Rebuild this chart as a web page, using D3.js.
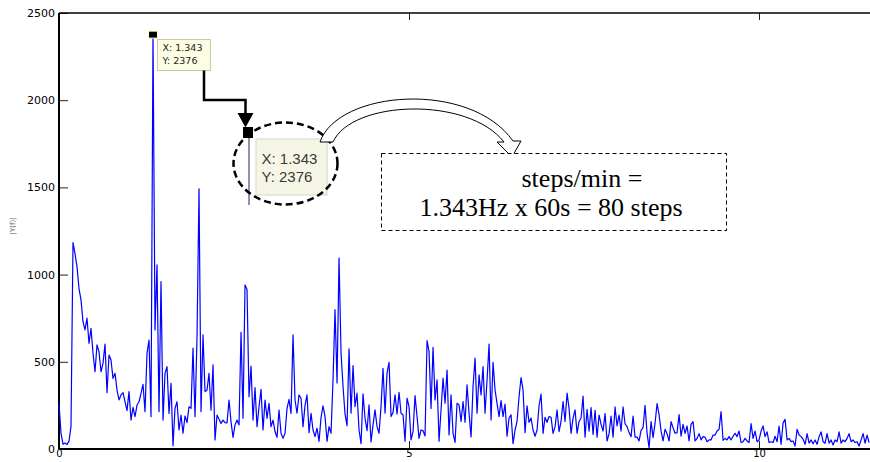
<!DOCTYPE html>
<meta charset="utf-8">
<style>
  body { margin: 0; background: #fff; }
  svg { display: block; background: #fff; }
  .tick text { font-family: "DejaVu Sans", sans-serif; font-size: 11px; fill: #000; }
  .tick line { stroke: #222; }
  .xaxis .tick text { font-size: 10px; }
</style>
<body>
<svg id="chart" width="870" height="462"></svg>
<script src="https://d3js.org/d3.v7.min.js"></script>
<script>

  // FFT magnitude spectrum, one value per frequency bin
  const freqStep = 1.343 / 47;
  const magnitude = [
    260, 90, 28, 35, 25, 45, 130, 1184, 1120, 1046,
    920, 855, 730, 683, 750, 606, 692, 549, 443, 597,
    558, 443, 491, 602, 323, 539, 510, 405, 434, 338,
    281, 310, 323, 271, 220, 329, 166, 239, 185, 252,
    271, 319, 371, 214, 549, 625, 185, 2376, 683, 1056,
    214, 960, 166, 434, 472, 204, 377, 19, 233, 271,
    109, 195, 90, 189, 151, 242, 233, 578, 185, 640,
    1492, 214, 655, 329, 338, 434, 223, 482, 52, 195,
    170, 147, 166, 151, 150, 281, 157, 67, 138, 166,
    138, 669, 176, 941, 914, 300, 476, 166, 352, 128,
    242, 342, 109, 281, 176, 262, 128, 166, 100, 67,
    223, 90, 61, 90, 233, 285, 204, 655, 281, 205,
    310, 291, 128, 250, 310, 94, 205, 109, 71, 119,
    44, 180, 248, 186, 44, 128, 90, 397, 799, 378,
    1095, 550, 358, 200, 134, 574, 205, 478, 243, 320,
    109, 31, 316, 176, 105, 253, 40, 140, 224, 128,
    90, 243, 463, 205, 435, 497, 186, 210, 310, 201,
    325, 205, 195, 44, 291, 243, 52, 100, 306, 186,
    61, 109, 105, 75, 622, 559, 233, 583, 281, 396,
    44, 224, 406, 262, 453, 81, 310, 90, 38, 262,
    253, 158, 272, 153, 368, 205, 69, 358, 521, 205,
    425, 310, 473, 205, 396, 602, 167, 497, 339, 262,
    186, 277, 186, 258, 73, 177, 196, 31, 109, 158,
    300, 410, 339, 94, 248, 153, 177, 109, 73, 109,
    248, 315, 90, 182, 153, 186, 182, 90, 128, 224,
    100, 158, 272, 158, 320, 233, 90, 177, 224, 90,
    158, 178, 303, 68, 227, 103, 237, 84, 222, 68,
    195, 141, 103, 203, 46, 88, 189, 68, 241, 132,
    195, 103, 241, 145, 128, 94, 71, 189, 68, 68,
    46, 107, 122, 250, 90, 8, 157, 65, 148, 260,
    197, 103, 46, 113, 88, 46, 157, 122, 90, 94,
    197, 73, 141, 90, 132, 46, 141, 157, 46, 61,
    88, 52, 71, 68, 42, 52, 52, 80, 80, 103,
    113, 214, 50, 61, 52, 71, 52, 73, 90, 71,
    103, 37, 42, 61, 46, 37, 145, 61, 103, 42,
    52, 103, 132, 71, 98, 37, 42, 37, 73, 42,
    132, 27, 150, 170, 52, 61, 42, 46, 17, 113,
    80, 71, 56, 27, 88, 33, 52, 30, 52, 27,
    71, 98, 42, 33, 88, 33, 52, 23, 52, 42,
    98, 33, 52, 42, 61, 88, 42, 52, 37, 42,
    17, 52, 88, 33, 80, 37
  ];

  const yTicks = [0, 500, 1000, 1500, 2000, 2500];
  const xTicks = [0, 5, 10];
  const yLabel = "|Y(f)|";

  const peakFreq = 1.343;
  const peakMag = 2376;
  const tipLines = ["X: 1.343", "Y: 2376"];
  const noteLines = ["steps/min =", "1.343Hz x 60s = 80 steps"];

  const svg = d3.select("#chart");
  const plotLeft = 59, plotRight = 870, plotTop = 13, plotBottom = 449;

  const x = d3.scaleLinear().domain([0, 10]).range([plotLeft, 759]);
  const y = d3.scaleLinear().domain([0, 2500]).range([plotBottom, plotTop]);

  // axes (ticks point inward, like matlab)
  svg.append("g")
    .attr("transform", `translate(${plotLeft},0)`)
    .call(d3.axisLeft(y).tickValues(yTicks).tickFormat(d3.format("d"))
      .tickSize(-9).tickPadding(4).tickSizeOuter(0))
    .call(g => g.select(".domain").remove());

  svg.append("g")
    .attr("class", "xaxis")
    .attr("transform", `translate(0,${plotBottom})`)
    .call(d3.axisBottom(x).tickValues(xTicks).tickFormat(d3.format("d"))
      .tickSize(-8).tickPadding(1).tickSizeOuter(0))
    .call(g => g.select(".domain").remove());

  svg.append("g")
    .attr("transform", `translate(0,${plotTop})`)
    .call(d3.axisTop(x).tickValues(xTicks).tickSize(-7).tickFormat("").tickSizeOuter(0))
    .call(g => g.select(".domain").remove());

  svg.append("line").attr("x1", plotLeft).attr("x2", plotRight).attr("y1", plotTop).attr("y2", plotTop)
    .attr("stroke", "#000").attr("stroke-width", 1.3);
  svg.append("line").attr("x1", plotLeft).attr("x2", plotRight).attr("y1", plotBottom).attr("y2", plotBottom)
    .attr("stroke", "#000").attr("stroke-width", 2);
  svg.append("line").attr("x1", plotLeft).attr("x2", plotLeft).attr("y1", plotTop).attr("y2", plotBottom)
    .attr("stroke", "#000").attr("stroke-width", 2);

  svg.append("text")
    .attr("transform", "translate(15,226) rotate(-90)")
    .attr("text-anchor", "middle")
    .attr("font-family", "DejaVu Sans, sans-serif")
    .attr("font-size", 7)
    .attr("fill", "#666")
    .text(yLabel);

  // spectrum
  const line = d3.line()
    .x((d, i) => x(i * freqStep))
    .y(d => y(d));

  svg.append("path")
    .datum(magnitude)
    .attr("d", line)
    .attr("fill", "none")
    .attr("stroke", "#0000ff")
    .attr("stroke-width", 1.2)
    .attr("stroke-linejoin", "round");

  // data cursor on the peak
  const px = x(peakFreq), py = y(peakMag);
  svg.append("rect")
    .attr("x", px - 4.5).attr("y", py - 3.5).attr("width", 9).attr("height", 7)
    .attr("fill", "#000").attr("stroke", "#ffffc8").attr("stroke-width", 1);

  svg.append("rect")
    .attr("x", 157.5).attr("y", 39.5).attr("width", 53).attr("height", 31)
    .attr("fill", "#fdfde4").attr("stroke", "#c8c8b0");
  svg.selectAll("text.tip")
    .data(tipLines).enter().append("text")
    .attr("class", "tip")
    .attr("x", 162.5)
    .attr("y", (d, i) => 51 + i * 12.5)
    .attr("font-family", "DejaVu Sans, sans-serif")
    .attr("font-size", 9.5)
    .attr("fill", "#222")
    .text(d => d);

  // elbow arrow down to the zoomed cursor
  svg.append("path")
    .attr("d", "M204,70.5 V100 H245.5 V114")
    .attr("fill", "none").attr("stroke", "#000").attr("stroke-width", 2.5);
  svg.append("path")
    .attr("d", "M237.5,113 L253.5,113 L245.5,127.5 Z")
    .attr("fill", "#000");
  svg.append("rect")
    .attr("x", 243).attr("y", 127).attr("width", 10).attr("height", 11)
    .attr("fill", "#000");

  // zoomed copy of the cursor
  svg.append("rect")
    .attr("x", 256).attr("y", 139).attr("width", 71).attr("height", 56)
    .attr("fill", "#f6f6e6").attr("stroke", "#d6d6c6");
  svg.append("line")
    .attr("x1", 249).attr("x2", 249).attr("y1", 138).attr("y2", 205)
    .attr("stroke", "#6c6c9c").attr("stroke-width", 1.5);
  svg.selectAll("text.bigtip")
    .data(tipLines).enter().append("text")
    .attr("class", "bigtip")
    .attr("x", 261.5)
    .attr("y", (d, i) => 163.5 + i * 18.5)
    .attr("font-family", "Liberation Sans, Arial, sans-serif")
    .attr("font-size", 15)
    .attr("fill", "#3a3a3a")
    .text(d => d);

  svg.append("ellipse")
    .attr("cx", 285.5).attr("cy", 163.5).attr("rx", 52).attr("ry", 41)
    .attr("fill", "none").attr("stroke", "#000").attr("stroke-width", 2.5)
    .attr("stroke-dasharray", "7,4");

  // hollow curved arrow to the note
  svg.append("path")
    .attr("d", "M320,142 C338,90 470,80 513,141 L521,141 L512,157 L497,142 L504,142 C468,96 352,100 333,142 Z")
    .attr("fill", "#fff").attr("stroke", "#000").attr("stroke-width", 1);

  // note box
  svg.append("rect")
    .attr("x", 381.5).attr("y", 153.5).attr("width", 345).attr("height", 77)
    .attr("fill", "#fff").attr("stroke", "#000").attr("stroke-width", 1)
    .attr("stroke-dasharray", "4,3");
  svg.selectAll("text.note")
    .data(noteLines).enter().append("text")
    .attr("class", "note")
    .attr("x", (d, i) => i === 0 ? 521.5 : 419.5)
    .attr("y", (d, i) => 187 + i * 29)
    .attr("font-family", "Liberation Serif, Times New Roman, serif")
    .attr("font-size", 26)
    .attr("fill", "#000")
    .text(d => d);

</script>
</body>
